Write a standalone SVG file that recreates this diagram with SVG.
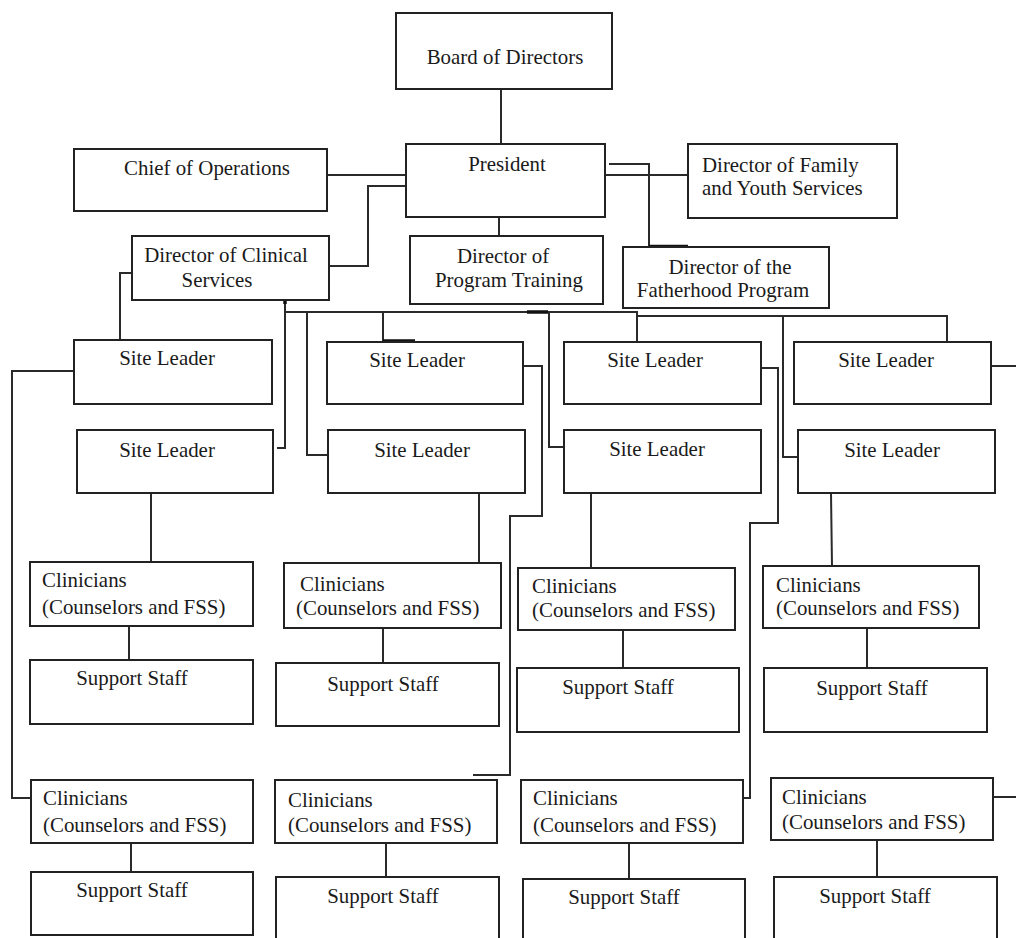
<svg xmlns="http://www.w3.org/2000/svg" width="1016" height="938" viewBox="0 0 1016 938">
<style>
.b{fill:#fff;stroke:#222;stroke-width:2}
.t{font-family:"Liberation Serif","Times New Roman",serif;font-size:20.9px;fill:#1a1a1a}
.m{text-anchor:middle}
.c{fill:none;stroke:#2a2a2a;stroke-width:2}
.k{fill:none;stroke:#111;stroke-width:3.5}
</style>
<rect width="1016" height="938" fill="#fff"/>
<g id="connectors">
<path class="c" d="M501 89V144"/>
<path class="c" d="M327 175H407"/>
<path class="c" d="M329 266H368V186H407"/>
<path class="c" d="M499 218V236"/>
<path class="c" d="M605 175H688"/>
<path class="c" d="M609 164H649V247"/>
<path class="k" d="M649 246.5H688"/>
<path class="c" d="M132 273H120V340"/>
<path class="c" d="M285 300V448H277"/>
<path class="k" d="M285 298V304"/>
<path class="c" d="M285 312H637V316H947V342"/>
<path class="k" d="M527 312H548"/>
<path class="c" d="M307 312V455H328"/>
<path class="c" d="M383 312V342"/>
<path class="k" d="M383 341H415"/>
<path class="c" d="M549 312V447H564"/>
<path class="c" d="M637 312V342"/>
<path class="c" d="M783 316V457H798"/>
<path class="c" d="M74 371H12V798H31"/>
<path class="c" d="M523 366H542V516H510V775H473"/>
<path class="c" d="M761 368H778V523H750V798H743"/>
<path class="c" d="M991 366H1016"/>
<path class="c" d="M993 797H1016"/>
<path class="c" d="M151 493V562"/>
<path class="c" d="M129 626V660"/>
<path class="c" d="M479 493V563"/>
<path class="c" d="M383 628V663"/>
<path class="c" d="M591 493V568"/>
<path class="c" d="M623 630V668"/>
<path class="c" d="M831 493L832 566"/>
<path class="c" d="M867 628V668"/>
<path class="c" d="M131 843V872"/>
<path class="c" d="M386 843V877"/>
<path class="c" d="M629 843V879"/>
<path class="c" d="M877 840V877"/>
</g>
<g id="board"><rect class="b" x="396" y="13" width="216" height="76"/><text class="t m" x="505" y="64">Board of Directors</text></g>
<g id="president"><rect class="b" x="406" y="144" width="199" height="73"/><text class="t m" x="507" y="171">President</text></g>
<g id="chief-ops"><rect class="b" x="74" y="149" width="253" height="62"/><text class="t m" x="207" y="175">Chief of Operations</text></g>
<g id="dir-clinical"><rect class="b" x="132" y="236" width="197" height="64"/><text class="t m" x="226" y="262">Director of Clinical</text><text class="t m" x="217" y="287">Services</text></g>
<g id="dir-training"><rect class="b" x="410" y="236" width="193" height="68"/><text class="t m" x="503" y="263">Director of</text><text class="t m" x="509" y="287">Program Training</text></g>
<g id="dir-family"><rect class="b" x="688" y="144" width="209" height="74"/><text class="t" x="702" y="172">Director of Family</text><text class="t" x="702" y="195">and Youth Services</text></g>
<g id="dir-fatherhood"><rect class="b" x="623" y="247" width="206" height="61"/><text class="t m" x="730" y="274">Director of the</text><text class="t m" x="723" y="297">Fatherhood Program</text></g>
<g id="sl1"><rect class="b" x="74" y="340" width="198" height="64"/><text class="t m" x="167" y="365">Site Leader</text></g>
<g id="sl2"><rect class="b" x="327" y="342" width="196" height="62"/><text class="t m" x="417" y="367">Site Leader</text></g>
<g id="sl3"><rect class="b" x="564" y="342" width="197" height="62"/><text class="t m" x="655" y="367">Site Leader</text></g>
<g id="sl4"><rect class="b" x="794" y="342" width="197" height="62"/><text class="t m" x="886" y="367">Site Leader</text></g>
<g id="sl5"><rect class="b" x="77" y="430" width="196" height="63"/><text class="t m" x="167" y="457">Site Leader</text></g>
<g id="sl6"><rect class="b" x="328" y="430" width="197" height="63"/><text class="t m" x="422" y="457">Site Leader</text></g>
<g id="sl7"><rect class="b" x="564" y="430" width="197" height="63"/><text class="t m" x="657" y="456">Site Leader</text></g>
<g id="sl8"><rect class="b" x="798" y="430" width="197" height="63"/><text class="t m" x="892" y="457">Site Leader</text></g>
<g id="cl1"><rect class="b" x="30" y="562" width="223" height="64"/><text class="t" x="42" y="587">Clinicians</text><text class="t" x="42" y="614">(Counselors and FSS)</text></g>
<g id="ss1"><rect class="b" x="30" y="660" width="223" height="64"/><text class="t m" x="132" y="685">Support Staff</text></g>
<g id="cl2"><rect class="b" x="284" y="563" width="217" height="65"/><text class="t" x="300" y="591">Clinicians</text><text class="t" x="296" y="615">(Counselors and FSS)</text></g>
<g id="ss2"><rect class="b" x="276" y="663" width="223" height="63"/><text class="t m" x="383" y="691">Support Staff</text></g>
<g id="cl3"><rect class="b" x="518" y="568" width="217" height="62"/><text class="t" x="532" y="593">Clinicians</text><text class="t" x="532" y="617">(Counselors and FSS)</text></g>
<g id="ss3"><rect class="b" x="517" y="668" width="222" height="64"/><text class="t m" x="618" y="694">Support Staff</text></g>
<g id="cl4"><rect class="b" x="763" y="566" width="216" height="62"/><text class="t" x="776" y="592">Clinicians</text><text class="t" x="776" y="615">(Counselors and FSS)</text></g>
<g id="ss4"><rect class="b" x="764" y="668" width="223" height="64"/><text class="t m" x="872" y="695">Support Staff</text></g>
<g id="cl5"><rect class="b" x="31" y="780" width="222" height="63"/><text class="t" x="43" y="805">Clinicians</text><text class="t" x="43" y="832">(Counselors and FSS)</text></g>
<g id="ss5"><rect class="b" x="31" y="872" width="222" height="63"/><text class="t m" x="132" y="897">Support Staff</text></g>
<g id="cl6"><rect class="b" x="275" y="780" width="222" height="63"/><text class="t" x="288" y="807">Clinicians</text><text class="t" x="288" y="832">(Counselors and FSS)</text></g>
<g id="ss6"><rect class="b" x="276" y="877" width="223" height="70"/><text class="t m" x="383" y="903">Support Staff</text></g>
<g id="cl7"><rect class="b" x="521" y="780" width="222" height="63"/><text class="t" x="533" y="805">Clinicians</text><text class="t" x="533" y="832">(Counselors and FSS)</text></g>
<g id="ss7"><rect class="b" x="523" y="879" width="222" height="70"/><text class="t m" x="624" y="904">Support Staff</text></g>
<g id="cl8"><rect class="b" x="771" y="778" width="222" height="62"/><text class="t" x="782" y="804">Clinicians</text><text class="t" x="782" y="829">(Counselors and FSS)</text></g>
<g id="ss8"><rect class="b" x="774" y="877" width="223" height="70"/><text class="t m" x="875" y="903">Support Staff</text></g>
</svg>
